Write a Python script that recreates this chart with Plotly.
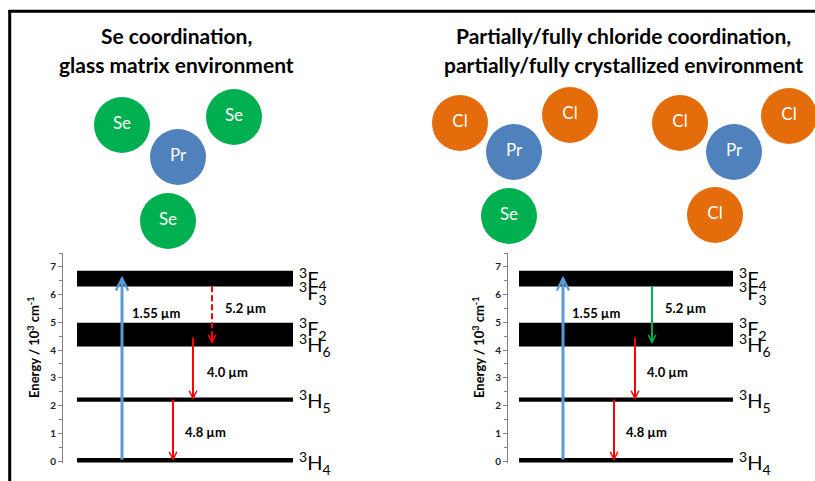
import plotly.graph_objects as go

W, H = 815, 481

# ---------------- data ----------------
panel_titles = [
    ["Se coordination,", "glass matrix environment"],
    ["Partially/fully chloride coordination,", "partially/fully crystallized environment"],
]

# energy levels (10^3 cm^-1): lower edge, upper edge
level_names = ["3H4", "3H5", "3H6/3F2", "3F3/3F4"]
level_low = [-0.05, 2.14, 4.13, 6.29]
level_high = [0.11, 2.29, 4.99, 6.86]

# right-hand labels of the levels and their energies
term_labels = ["<sup>3</sup>F<sub>4</sub>", "<sup>3</sup>F<sub>3</sub>",
               "<sup>3</sup>F<sub>2</sub>", "<sup>3</sup>H<sub>6</sub>",
               "<sup>3</sup>H<sub>5</sub>", "<sup>3</sup>H<sub>4</sub>"]
term_energy = [6.58, 6.06, 4.76, 4.18, 2.16, -0.06]

# transitions: label, start energy, end energy, label energy
trans_labels = ["1.55 µm", "5.2 µm", "4.0 µm", "4.8 µm"]
trans_start = [0.05, 6.3, 4.45, 2.22]
trans_end = [6.68, 4.22, 2.2, 0.0]
trans_label_y = [5.35, 5.5, 3.2, 1.05]

y_ticks = [0, 1, 2, 3, 4, 5, 6, 7]
y_tick_text = ["0", "1", "2", "3", "4", "5", "6", "7"]

# atoms in the coordination sketches (pixel positions of sketch)
atoms_left = [("Se", 122, 125), ("Se", 234, 117), ("Pr", 178, 157), ("Se", 168, 221)]
atoms_right = [("Cl", 460, 123), ("Cl", 570, 115), ("Pr", 514, 152), ("Se", 509, 216),
               ("Cl", 680, 123), ("Cl", 789, 116), ("Pr", 734, 152), ("Cl", 715, 215)]

# ---------------- styles ----------------
FONT = "Lato"
C_BLUE_ARROW = "#5B9BD5"
C_RED = "#FF0000"
C_GREEN = "#00B050"
atom_colors = {"Se": "#00B050", "Pr": "#4F81BD", "Cl": "#E46C0A"}

panels = [
    dict(axis_px=63, bar=(14, 230), arrow_x=[59, 149, 130, 110], label_x=[67, 160, 142, 120],
         term_x=234, fifth_color=C_RED, fifth_dash="6px,3px", xa="x", ya="y", title_cx=176),
    dict(axis_px=508, bar=(11, 225), arrow_x=[55, 144, 127, 106], label_x=[62, 155, 137, 116],
         term_x=229, fifth_color=C_GREEN, fifth_dash="solid", xa="x2", ya="y2", title_cx=623),
]
XSPAN = 270

fig = go.Figure()
shapes = []
annotations = []

y_dom = [1 - 463 / H, 1 - 253 / H]
y_range = [-0.07, 7.5]

for i, p in enumerate(panels):
    xa, ya = p["xa"], p["ya"]
    for lo, hi in zip(level_low, level_high):
        shapes.append(dict(type="rect", xref=xa, yref=ya, x0=p["bar"][0], x1=p["bar"][1],
                           y0=lo, y1=hi, fillcolor="black", line=dict(width=0), layer="below"))
    colors = [C_BLUE_ARROW, p["fifth_color"], C_RED, C_RED]
    dashes = ["solid", p["fifth_dash"], "solid", "solid"]
    widths = [3, 2, 2, 2]
    for k in range(4):
        x = p["arrow_x"][k]
        y0, y1 = trans_start[k], trans_end[k]
        fig.add_trace(go.Scatter(x=[x, x], y=[y0, y1 - (0.1 if y1 > y0 else -0.1)], mode="lines",
                                 line=dict(color=colors[k], width=widths[k], dash=dashes[k]),
                                 xaxis=xa, yaxis=ya, showlegend=False, hoverinfo="skip"))
        back = -0.35 if y1 > y0 else 0.35
        annotations.append(dict(x=x, y=y1, ax=x, ay=y1 + back, xref=xa, yref=ya,
                                axref=xa, ayref=ya, text="", showarrow=True, arrowhead=5,
                                arrowsize=0.8 if k == 0 else 0.75, arrowwidth=widths[k],
                                arrowcolor=colors[k]))
        annotations.append(dict(x=p["label_x"][k], y=trans_label_y[k], xref=xa, yref=ya,
                                text="<b>" + trans_labels[k] + "</b>", showarrow=False,
                                xanchor="left", yanchor="middle",
                                font=dict(family=FONT, size=13, color="black")))
    for t, e in zip(term_labels, term_energy):
        annotations.append(dict(x=p["term_x"], y=e, xref=xa, yref=ya, text=t, showarrow=False,
                                xanchor="left", yanchor="middle",
                                font=dict(family=FONT, size=20, color="black")))
    annotations.append(dict(x=(p["axis_px"] - 30) / W, y=1 - 347 / H, xref="paper", yref="paper",
                            text="<b>Energy / 10<sup>3</sup> cm<sup>-1</sup></b>", textangle=-90,
                            xanchor="center", yanchor="middle",
                            showarrow=False, font=dict(family=FONT, size=13, color="black")))
    for j, line in enumerate(panel_titles[i]):
        annotations.append(dict(x=p["title_cx"] / W, y=1 - (35 + 29 * j) / H,
                                xref="paper", yref="paper",
                                text="<b>" + line + "</b>", showarrow=False,
                                xanchor="center", yanchor="middle",
                                font=dict(family=FONT, size=21, color="black")))

    axis_common = dict(showgrid=False, zeroline=False)
    fig.update_layout(**{
        ("xaxis" if i == 0 else "xaxis2"): dict(domain=[p["axis_px"] / W, (p["axis_px"] + XSPAN) / W],
                                                  range=[0, XSPAN], visible=False, anchor=ya,
                                                  **axis_common),
        ("yaxis" if i == 0 else "yaxis2"): dict(domain=y_dom, range=y_range, anchor=xa,
                                                  tickvals=y_ticks,
                                                  ticktext=["<b>" + t + "</b>" for t in y_tick_text],
                                                  ticks="outside", ticklen=4,
                                                  tickcolor="#7f7f7f", showline=True,
                                                  linecolor="#7f7f7f", linewidth=1,
                                                  tickfont=dict(family=FONT, size=10, color="#222"),
                                                  minor=dict(dtick=0.5, ticks="outside", ticklen=3,
                                                             tickcolor="#7f7f7f"),
                                                  automargin=False,
                                                  **axis_common),
    })

for atoms in (atoms_left, atoms_right):
    fig.add_trace(go.Scatter(
        x=[a[1] for a in atoms], y=[a[2] for a in atoms], mode="markers+text",
        text=[a[0] for a in atoms], textposition="middle center",
        textfont=dict(family=FONT, size=17, color="white"),
        marker=dict(size=56, color=[atom_colors[a[0]] for a in atoms], line=dict(width=0)),
        xaxis="x3", yaxis="y3", showlegend=False, hoverinfo="skip"))

fig.update_layout(
    xaxis3=dict(domain=[0, 1], range=[0, W], visible=False, anchor="y3"),
    yaxis3=dict(domain=[0, 1], range=[H, 0], visible=False, anchor="x3"),
)

shapes.append(dict(type="line", xref="paper", yref="paper", x0=8.5 / W, x1=1,
                   y0=1 - 11.3 / H, y1=1 - 11.3 / H, line=dict(color="black", width=3)))
shapes.append(dict(type="line", xref="paper", yref="paper", x0=9.7 / W, x1=9.7 / W,
                   y0=1 - 10 / H, y1=0, line=dict(color="black", width=3)))

fig.update_layout(width=W, height=H, margin=dict(l=0, r=0, t=0, b=0),
                  paper_bgcolor="white", plot_bgcolor="rgba(0,0,0,0)",
                  shapes=shapes, annotations=annotations, showlegend=False)

fig.write_html("out.html", config={"displayModeBar": False},
               post_script="document.body.style.margin='0';document.body.style.overflow='hidden';")
